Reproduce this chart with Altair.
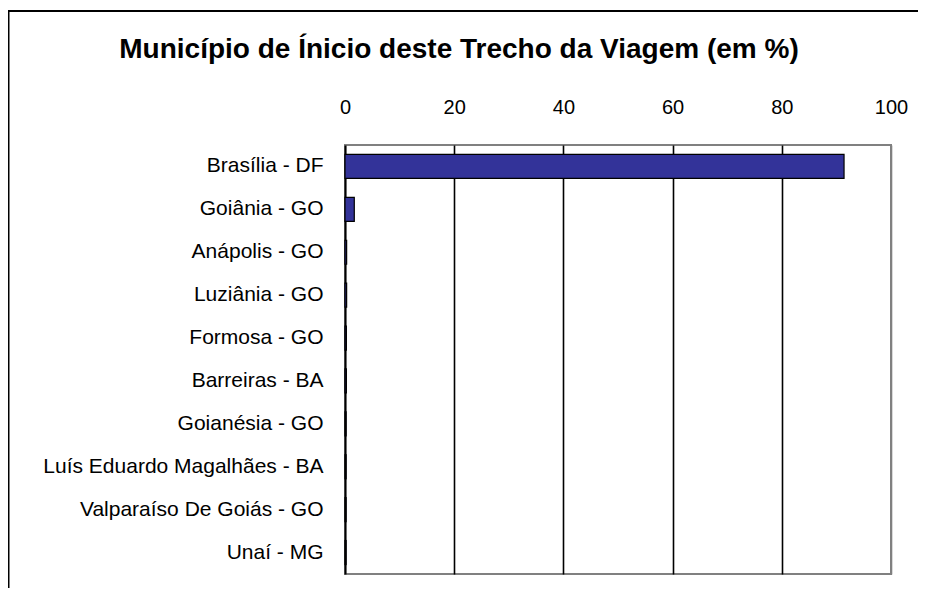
import altair as alt
import pandas as pd

title_text = "Município de Ínicio deste Trecho da Viagem (em %)"
cities = [
    "Brasília - DF",
    "Goiânia - GO",
    "Anápolis - GO",
    "Luziânia - GO",
    "Formosa - GO",
    "Barreiras - BA",
    "Goianésia - GO",
    "Luís Eduardo Magalhães - BA",
    "Valparaíso De Goiás - GO",
    "Unaí - MG",
]
values = [91.4, 1.7, 0.3, 0.3, 0.25, 0.25, 0.2, 0.2, 0.2, 0.2]
tick_values = [0, 20, 40, 60, 80, 100]

df = pd.DataFrame({"municipio": cities, "pct": values})
one = pd.DataFrame({"t": [title_text]})

FONT = "Liberation Sans"

bars = alt.Chart(df).mark_bar(color="#333399", stroke="black", strokeWidth=1.2).encode(
    y=alt.Y(
        "municipio:N",
        sort=cities,
        scale=alt.Scale(paddingInner=0.44, paddingOuter=0.22),
        axis=alt.Axis(
            title=None,
            labelFont=FONT,
            labelFontSize=21,
            labelColor="black",
            labelPadding=22,
            ticks=False,
            tickSize=0,
            domainColor="black",
            domainWidth=2,
            labelLimit=400,
        ),
    ),
    x=alt.X(
        "pct:Q",
        scale=alt.Scale(domain=[0, 100], nice=False),
        axis=alt.Axis(
            orient="top",
            values=tick_values,
            title=None,
            domain=False,
            ticks=False,
            tickSize=0,
            labelPadding=28,
            labelFont=FONT,
            labelFontSize=20,
            labelColor="black",
            labelFlush=False,
            gridColor={"condition": {"test": "datum.value > 0 && datum.value < 100", "value": "black"}, "value": "#808080"},
            gridWidth=1.6,
        ),
    ),
)

title = alt.Chart(one).mark_text(
    font=FONT, fontSize=28, fontWeight="bold", align="center", baseline="alphabetic", color="black"
).encode(x=alt.value(114), y=alt.value(-87), text="t:N")

frame_top = alt.Chart(one).mark_rule(color="black", strokeWidth=2).encode(
    x=alt.value(-337), x2=alt.value(620), y=alt.value(-134)
)
frame_left = alt.Chart(one).mark_rule(color="black", strokeWidth=3).encode(
    x=alt.value(-337), y=alt.value(-134), y2=alt.value(500)
)

chart = (
    alt.layer(frame_top, frame_left, bars, title)
    .properties(
        width=546,
        height=429,
        autosize=alt.AutoSizeParams(type="none"),
        padding={"left": 337, "top": 137, "right": 27, "bottom": 14},
    )
    .configure_view(stroke="#808080", strokeWidth=2)
)

chart.save("out.html", embed_options={"renderer": "svg", "actions": False})
